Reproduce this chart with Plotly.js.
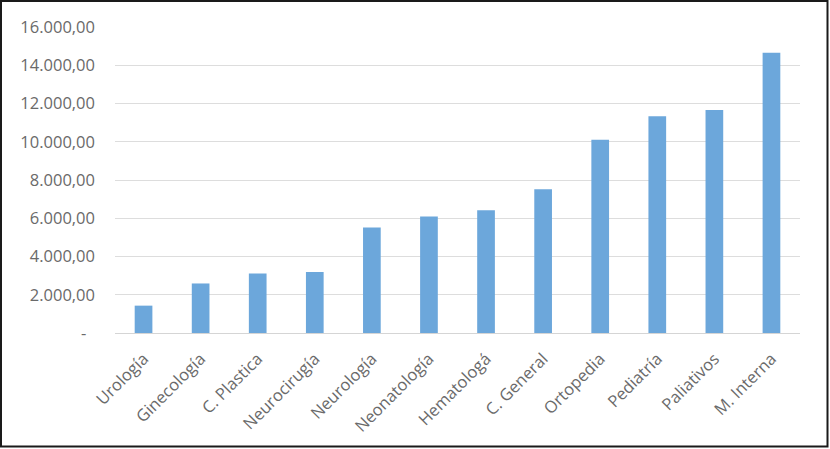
<!DOCTYPE html>
<html>
<head>
<meta charset="utf-8">
<script src="https://cdn.plot.ly/plotly-3.0.1.min.js"></script>
<style>
html, body { margin: 0; padding: 0; background: #fff; }
#chart { width: 830px; height: 449px; }
</style>
</head>
<body>
<div id="chart"></div>
<script>
const categories = ["Urología", "Ginecología", "C. Plastica", "Neurocirugía", "Neurología", "Neonatología", "Hematologá", "C. General", "Ortopedia", "Pediatría", "Paliativos", "M. Interna"];
const values = [1430, 2590, 3110, 3190, 5510, 6090, 6420, 7510, 10110, 11330, 11660, 14660];
const yTickVals = [0, 2000, 4000, 6000, 8000, 10000, 12000, 14000, 16000];
const yTickText = ["-\u00a0\u00a0", "2.000,00", "4.000,00", "6.000,00", "8.000,00", "10.000,00", "12.000,00", "14.000,00", "16.000,00"];

const W = 830, H = 449;
const m = {l: 115, r: 30, t: 27, b: 116};
const pw = W - m.l - m.r, ph = H - m.t - m.b;
const px = x => (x - m.l) / pw;
const py = y => (H - m.b - y) / ph;

const data = [{
  type: 'bar',
  x: categories,
  y: values,
  marker: {color: '#6CA7DB'},
  hoverinfo: 'x+y'
}];

const font = {family: '"Open Sans", sans-serif', size: 16.5, color: '#6a6a6a'};

const layout = {
  width: W, height: H,
  margin: m,
  paper_bgcolor: '#ffffff',
  plot_bgcolor: '#ffffff',
  showlegend: false,
  bargap: 0.69,
  font: font,
  xaxis: {
    type: 'category',
    tickangle: -45,
    ticks: '',
    showgrid: false,
    showline: false,
    tickfont: font,
    ticklabelstandoff: 12
  },
  yaxis: {
    range: [0, 16000],
    tickvals: yTickVals,
    ticktext: yTickText,
    showgrid: true,
    gridcolor: '#DDDDDD',
    gridwidth: 1,
    zeroline: true,
    zerolinecolor: '#D5D5D5',
    zerolinewidth: 1,
    showline: false,
    ticks: '',
    tickfont: font,
    ticklabelstandoff: 19
  },
  shapes: [{
    type: 'rect', xref: 'paper', yref: 'paper',
    x0: px(1), x1: px(827.5), y0: py(446.5), y1: py(1),
    line: {color: '#1a1a1a', width: 2},
    fillcolor: 'rgba(0,0,0,0)'
  }]
};

Plotly.newPlot('chart', data, layout, {displayModeBar: false, staticPlot: true});
</script>
</body>
</html>
